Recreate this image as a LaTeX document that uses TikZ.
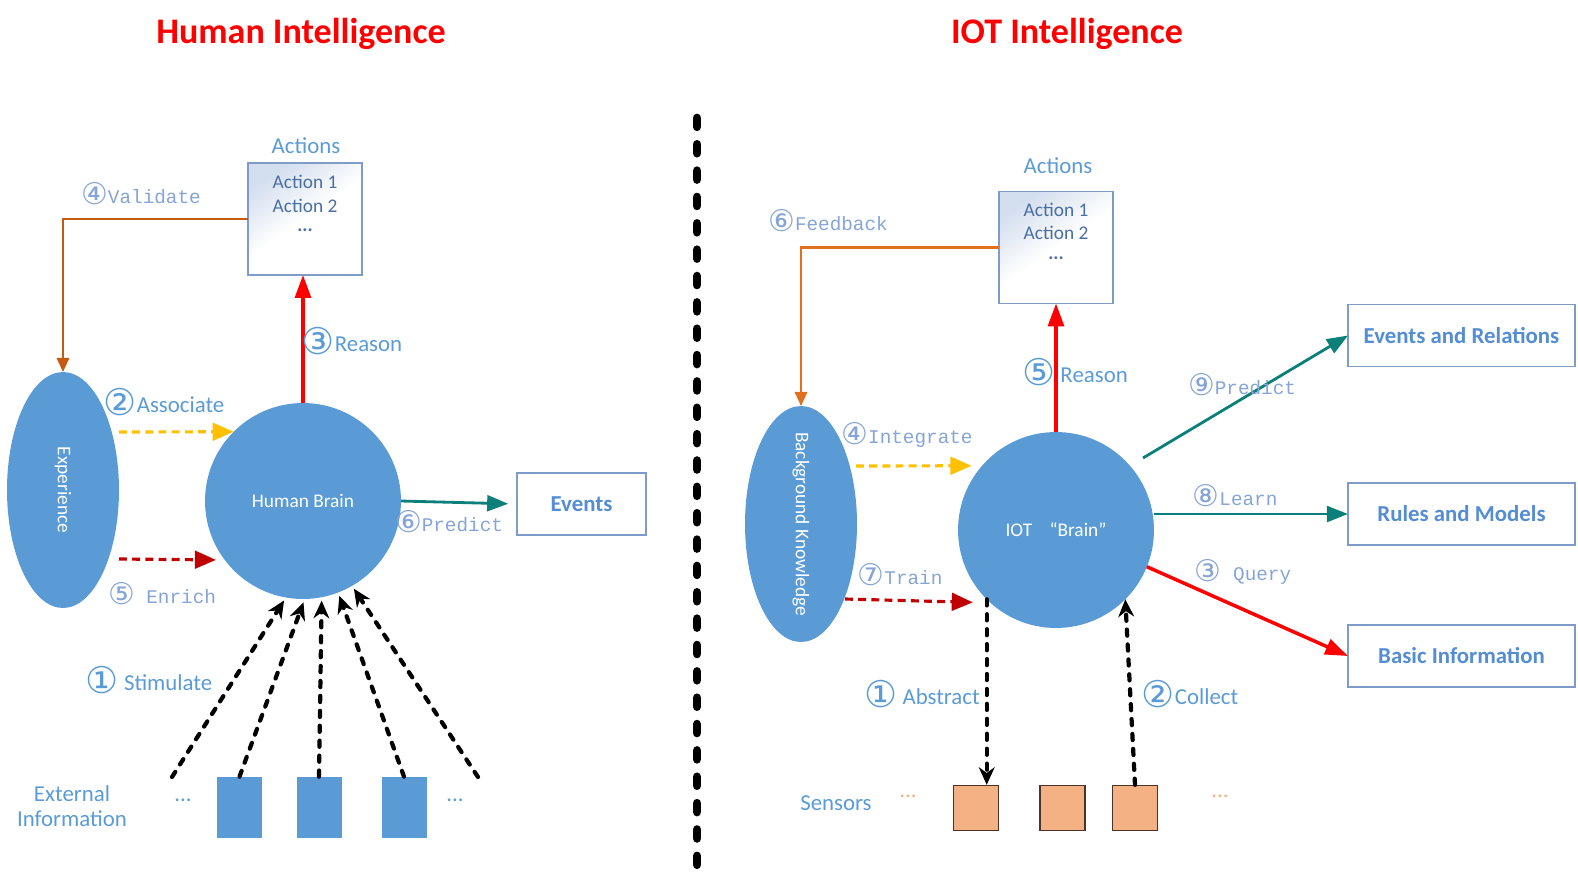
\documentclass[tikz,border=0pt]{standalone}
\usepackage{fontspec}
\setmainfont{Carlito}
\newfontfamily\monofont{Liberation Mono}
\newfontfamily\circfont{DejaVu Sans}
\usepackage{xcolor}
\usepackage{tikz}
\usetikzlibrary{shapes.geometric}
\usetikzlibrary{arrows.meta}
\definecolor{brainblue}{HTML}{5B9BD5}
\definecolor{labelblue}{HTML}{5B9BD5}
\definecolor{boxtext}{HTML}{548DD4}
\definecolor{acttext}{HTML}{4A6FA5}
\definecolor{monoblue}{HTML}{86A4D6}
\definecolor{boxline}{HTML}{7F9CC9}
\definecolor{boxtop}{HTML}{D3DEEE}
\definecolor{validorange}{HTML}{C55A11}
\definecolor{feedorange}{HTML}{E0701E}
\definecolor{assocyellow}{HTML}{FFC000}
\definecolor{enrichred}{HTML}{C00000}
\definecolor{predteal}{HTML}{0B7F7A}
\definecolor{sensorfill}{HTML}{F4B183}
\definecolor{sensorline}{HTML}{4A3428}
\newcommand{\cnS}[1]{\raisebox{-1.5pt}{\circfont\fontsize{21}{21}\selectfont #1}}
\newcommand{\cnM}[1]{\raisebox{-1pt}{\circfont\fontsize{17}{17}\selectfont #1}}

\begin{document}
\begin{tikzpicture}[x=0.02cm,y=-0.02cm,
    title/.style={anchor=base, text=red, font=\bfseries\fontsize{20.5}{22}\selectfont},
    divider/.style={line width=5pt, line cap=round, dash pattern=on 5pt off 10pt},
    sanslabel/.style={text=labelblue, inner sep=0pt, font=\fontsize{13}{15}\selectfont},
    monolabel/.style={text=monoblue, inner sep=0pt, font=\monofont\fontsize{11}{13}\selectfont},
    acttext/.style={anchor=base, text=acttext, inner sep=0pt, font=\fontsize{11}{13}\selectfont},
    actbox/.style={draw=boxline, line width=0.7pt, top color=boxtop, bottom color=white,
        middle color=white, shading angle=35,
        minimum width=2.28cm, minimum height=2.24cm, inner sep=0pt, outer sep=0pt},
    outbox/.style={draw=boxline, line width=0.7pt, fill=white, minimum height=1.24cm,
        inner sep=0pt, outer sep=0pt, text=boxtext, font=\bfseries\fontsize{13}{15}\selectfont},
    brain/.style={circle, fill=brainblue, minimum size=3.92cm, inner sep=0pt, outer sep=0pt,
        text=white, font=\fontsize{11}{13}\selectfont},
    memory/.style={ellipse, fill=brainblue, minimum width=2.24cm, minimum height=4.72cm,
        inner sep=0pt, outer sep=0pt},
    memtext/.style={rotate=-90, text=white, font=\fontsize{11}{13}\selectfont},
    extbox/.style={fill=brainblue, minimum width=0.9cm, minimum height=1.22cm, inner sep=0pt},
    sensor/.style={draw=sensorline, line width=0.8pt, fill=sensorfill, minimum size=0.9cm, inner sep=0pt},
    stim/.style={line width=2.4pt, line cap=round, dash pattern=on 3.5pt off 5pt,
        -{Stealth[length=10pt,width=9pt]}},
    assoc/.style={assocyellow, line width=1.8pt, dash pattern=on 4.5pt off 3pt,
        -{Triangle[length=12pt,width=10pt]}},
    enrich/.style={enrichred, line width=1.8pt, dash pattern=on 4.5pt off 3pt,
        -{Triangle[length=12pt,width=10pt]}},
    pred/.style={predteal, line width=1.6pt, -{Triangle[length=12pt,width=9pt]}},
    reason/.style={red, line width=2pt, -{Triangle[length=13pt,width=9pt]}},
    valid/.style={line width=1.3pt, -{Triangle[length=8pt,width=7pt]}}]
    \useasboundingbox (0,0) rectangle (1578,887);
    % Titles
    \node[title] (htitle) at (301,43) {Human Intelligence};
    \node[title] (ititle) at (1067,43) {IOT Intelligence};
    % Divider
    \coordinate (divtop) at (697,118);
    \coordinate (divbot) at (697,878);
    \draw[divider] (divtop) -- (divbot);
    %
    % Human Intelligence:
    \node[sanslabel] (actLlbl) at (306,146) {Actions};
    \node[actbox] (actL) at (305,219) {};
    \node[acttext] (actL1) at (305,188) {Action 1};
    \node[acttext] (actL2) at (305,212) {Action 2};
    \node[acttext] (actL3) at (305,231) {\textbf{...}};
    \node[memory] (exp) at (63,490) {};
    \node[memtext] (exptxt) at (exp) {Experience};
    \node[brain] (hbrain) at (303,501) {Human Brain};
    \node[outbox, minimum width=2.58cm] (events) at (581.5,504) {Events};
    % External Information
    \foreach \i/\x in {1/239.5, 2/319, 3/404}
       \node[extbox] (ext\i) at (\x,807.5) {};
    \node[sanslabel] (extdotsL) at (183,800) {...};
    \node[sanslabel] (extdotsR) at (455,800) {...};
    \node[sanslabel, align=center] (extlbl) at (72,806) {External\\[-1pt]Information};
    % Human Edges
    \draw[valid, validorange] (actL.west) -| (exp.north);
    \draw[reason] (hbrain.north) -- (hbrain.north |- actL.south);
    \coordinate (assocS) at (119,432);
    \draw[assoc] (assocS) -- (hbrain.135.4);
    \coordinate (enrichS) at (119,559);
    \draw[enrich, shorten >=5pt] (enrichS) -- (hbrain.-143.7);
    \draw[pred, shorten >=5pt] (hbrain.east) -- (events.west);
    \coordinate (stimL) at (172,777);
    \coordinate (stimR) at (478,777);
    \draw[stim, shorten >=2pt] (stimL) -- (hbrain.-100);
    \draw[stim, shorten >=2pt] (ext1.north) -- (hbrain.-89);
    \draw[stim, shorten >=2pt] (ext2.north) -- (hbrain.-79);
    \draw[stim, shorten >=2pt] (ext3.north) -- (hbrain.-69);
    \draw[stim, shorten >=2pt] (stimR) -- (hbrain.-60);
    % Human Labels
    \node[monolabel] (validlbl) at (141,194) {\cnM{④}Validate};
    \node[sanslabel] (reasonLlbl) at (352,341) {\cnS{③}Reason};
    \node[sanslabel] (assoclbl) at (164,402) {\cnS{②}Associate};
    \node[monolabel] (enrichlbl) at (162,594) {\cnM{⑤} Enrich};
    \node[monolabel] (predLlbl) at (449,522) {\cnM{⑥}Predict};
    \node[sanslabel] (stimlbl) at (149,680) {\cnS{①} Stimulate};
    %
    % IOT Intelligence:
    \node[sanslabel] (actRlbl) at (1058,166) {Actions};
    \node[actbox] (actR) at (1056,247.5) {};
    \node[acttext] (actR1) at (1056,216) {Action 1};
    \node[acttext] (actR2) at (1056,239) {Action 2};
    \node[acttext] (actR3) at (1056,259) {\textbf{...}};
    \node[memory] (bg) at (801,524) {};
    \node[memtext] (bgtxt) at (bg) {Background Knowledge};
    \node[brain] (ibrain) at (1056,530) {IOT\hspace{0.9em}“Brain”};
    \node[outbox, minimum width=4.54cm] (erel) at (1461.5,335.5) {Events and Relations};
    \node[outbox, minimum width=4.54cm] (rules) at (1461.5,514) {Rules and Models};
    \node[outbox, minimum width=4.54cm] (basic) at (1461.5,656) {Basic Information};
    % Sensors
    \foreach \i/\x in {1/976, 2/1062.5, 3/1135}
       \node[sensor] (sen\i) at (\x,808) {};
    \node[sanslabel] (senlbl) at (836,803) {Sensors};
    \node[sanslabel, text=sensorfill] (sendotsL) at (908,796) {...};
    \node[sanslabel, text=sensorfill] (sendotsR) at (1220,796) {...};
    % IOT Edges
    \draw[valid, feedorange] (actR.west) -| (bg.north);
    \draw[reason] (ibrain.north) -- (actR.south);
    \coordinate (integS) at (856,466);
    \draw[assoc, shorten >=6pt] (integS) -- (ibrain.139.1);
    \coordinate (trainS) at (845,599);
    \draw[enrich, shorten >=10pt] (trainS) -- (ibrain.-132.7);
    \coordinate (predS) at (1143,458);
    \draw[pred] (predS) -- (erel.west);
    \draw[pred] (ibrain.east |- rules.west) -- (rules.west);
    \draw[reason] (ibrain.-22) -- (basic.west);
    \draw[stim] (ibrain.-135.6) -- (ibrain.-135.6 |- sen1.north);
    \draw[stim] (sen3.north) -- (ibrain.-45);
    % IOT Labels
    \node[monolabel] (feedlbl) at (828,221) {\cnM{⑥}Feedback};
    \node[sanslabel] (reasonRlbl) at (1075,372) {\cnS{⑤} Reason};
    \node[monolabel] (integlbl) at (907,435) {\cnM{④}Integrate};
    \node[monolabel] (trainlbl) at (900,575) {\cnM{⑦}Train};
    \node[monolabel] (predRlbl) at (1242,385) {\cnM{⑨}Predict};
    \node[monolabel] (learnlbl) at (1235,496) {\cnM{⑧}Learn};
    \node[monolabel] (querylbl) at (1243,572) {\cnM{③} Query};
    \node[sanslabel] (abstlbl) at (922,694) {\cnS{①} Abstract};
    \node[sanslabel] (colllbl) at (1190,694) {\cnS{②}Collect};
\end{tikzpicture}
\end{document}
